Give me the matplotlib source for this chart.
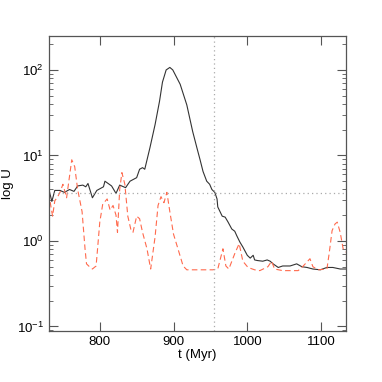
import numpy as np
import matplotlib
matplotlib.use('Agg')
import matplotlib.pyplot as plt
from matplotlib.ticker import LogLocator, FixedLocator

plt.rcParams['font.family'] = ['Liberation Sans', 'DejaVu Sans']

# black (solid) curve
t_black = [731, 735, 739, 746, 752, 759, 765, 770, 777, 781, 784, 790, 796,
           805, 807, 816, 822, 827, 835, 841, 850, 854, 858, 861, 868, 875,
           881, 885, 890, 895, 899, 909, 918, 926, 932, 936, 940, 945, 949,
           952, 956, 959, 960, 966, 970, 974, 979, 983, 986, 990, 994, 1000,
           1004, 1008, 1010, 1014, 1021, 1027, 1031, 1035, 1042, 1048, 1058,
           1067, 1074, 1081, 1089, 1099, 1108, 1116, 1126, 1134]
u_black = [4.0, 2.9, 3.9, 3.9, 3.7, 4.0, 3.8, 4.4, 4.5, 4.3, 4.7, 3.2, 3.9,
           4.3, 5.0, 4.4, 3.6, 4.5, 4.2, 5.0, 5.5, 6.9, 7.2, 6.9, 12.3, 23,
           43, 72, 100, 107, 100, 68, 39, 19, 12.0, 8.9, 6.5, 5.0, 4.6,
           4.0, 3.7, 3.1, 2.5, 1.95, 1.9, 1.66, 1.38, 1.3, 1.14, 0.97, 0.85, 0.68,
           0.63, 0.68, 0.60, 0.59, 0.58, 0.60, 0.58, 0.54, 0.49, 0.51, 0.51,
           0.54, 0.50, 0.49, 0.47, 0.46, 0.49, 0.49, 0.47, 0.47]

# red (dashed) curve
t_red = [731, 732, 736, 739, 743, 746, 750, 755, 762, 766, 770, 776, 780,
         782, 786, 790, 795, 797, 800, 804, 810, 814, 818, 822, 824, 827,
         830, 834, 838, 842, 845, 850, 854, 858, 864, 869, 875, 879, 883,
         887, 891, 895, 900, 906, 913, 918, 936, 953, 960, 967, 971, 975,
         983, 989, 994, 1001, 1010, 1017, 1028, 1033, 1037, 1048, 1069, 1075,
         1085, 1089, 1096, 1108, 1111, 1115, 1119, 1122, 1126, 1130, 1134]
u_red = [4.6, 3.1, 1.95, 2.95, 3.3, 3.7, 4.6, 3.2, 8.9, 7.4, 4.0, 2.2, 0.81,
         0.54, 0.50, 0.47, 0.51, 0.81, 1.66, 2.7, 3.1, 2.3, 2.6, 2.0, 1.26, 4.0,
         6.3, 4.6, 1.95, 1.38, 1.26, 1.95, 1.82, 1.26, 0.81, 0.47, 1.12, 2.6, 3.3,
         2.8, 3.7, 2.2, 1.2, 0.81, 0.51, 0.46, 0.46, 0.46, 0.47, 0.81, 0.51, 0.47,
         0.71, 0.93, 0.58, 0.49, 0.46, 0.45, 0.50, 0.58, 0.47, 0.45, 0.45, 0.50,
         0.62, 0.50, 0.46, 0.47, 0.71, 1.32, 1.58, 1.66, 1.26, 0.81, 0.74]

u_thresh = 3.6
t_mark = 955

xticks = [800, 900, 1000, 1100]

fig = plt.figure(figsize=(3.82, 3.82), dpi=100)
ax = fig.add_axes([0.128, 0.134, 0.778, 0.772])

ax.plot(t_black, u_black, color='#333333', lw=0.8)
ax.plot(t_red, u_red, color='#ff6a4d', lw=0.8, dashes=(5, 3))
ax.axhline(u_thresh, color='#aaaaaa', lw=0.9, ls=(0, (1, 2.5)))
ax.axvline(t_mark, color='#aaaaaa', lw=0.9, ls=(0, (1, 2.5)))

ax.set_yscale('log')
ax.set_xlim(731, 1134)
ax.set_ylim(0.089, 250)
ax.xaxis.set_major_locator(FixedLocator(xticks))
ax.yaxis.set_major_locator(LogLocator(base=10, numticks=10))
ax.yaxis.set_minor_locator(LogLocator(base=10, subs=np.arange(2, 10), numticks=10))

ax.tick_params(which='both', direction='in', top=True, right=True,
               labelsize=9.5, color='#555555')
ax.tick_params(which='major', length=6.5, width=0.8)
ax.tick_params(which='minor', length=3, width=0.6)
for s in ax.spines.values():
    s.set_color('#555555')
    s.set_linewidth(0.9)

ax.set_xlabel('t (Myr)', fontsize=9.5, labelpad=1)
ax.set_ylabel('log U', fontsize=9.5, labelpad=2)

fig.savefig('out.png', dpi=100)
